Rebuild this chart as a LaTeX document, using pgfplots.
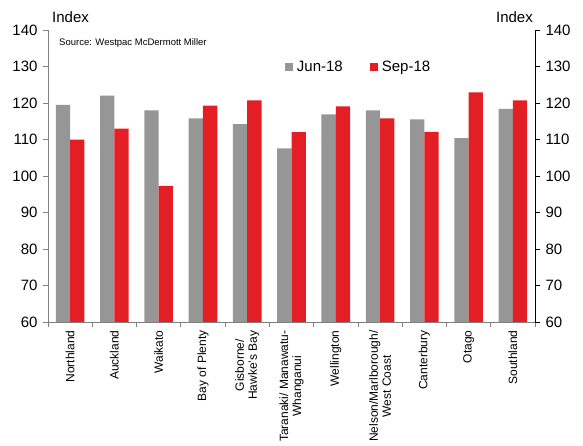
\documentclass[border=0pt]{standalone}
\usepackage{pgfplots}
\usepackage{pgfplotstable}
\pgfplotsset{compat=1.18}
\usepackage{fontspec}
\setmainfont{Liberation Sans}
\definecolor{jun}{RGB}{150,150,150}
\definecolor{sep}{RGB}{227,30,36}
\definecolor{axgray}{RGB}{128,128,128}

\pgfplotstableread{
x jun sep
0 119.5 110.0
1 122.0 113.0
2 118.0 97.3
3 115.8 119.3
4 114.2 120.7
5 107.6 112.0
6 116.9 119.1
7 118.0 115.8
8 115.5 112.1
9 110.4 122.9
10 118.4 120.7
}\data

\begin{document}
\begin{tikzpicture}[x=1pt,y=1pt]
\useasboundingbox (-48,-124) rectangle (535,322);
\begin{axis}[
  at={(0,0)}, anchor=south west,
  scale only axis, width=487pt, height=292pt,
  xmin=-0.5, xmax=10.5, ymin=60, ymax=140,
  ybar=0pt, bar width=14.3pt,
  axis x line*=bottom, axis y line*=left,
  x axis line style={-, axgray, line width=0.8pt},
  y axis line style={-, axgray, line width=0.8pt},
  xtick={0,...,10},
  xticklabels={Northland, Auckland, Waikato, Bay of Plenty, {Gisborne/\\Hawke's Bay}, {Taranaki/ Manawatu-\\Whanganui}, Wellington, {Nelson/Marlborough/\\West Coast}, Canterbury, Otago, Southland},
  major x tick style={draw=none},
  minor xtick={-0.5,0.5,...,10.5},
  minor x tick style={axgray, line width=0.8pt},
  minor tick length=5pt,
  tick align=outside, major tick length=5pt,
  x tick label style={rotate=90, anchor=east, align=center, font=\fontsize{12}{13}\selectfont},
  ytick={60,70,...,140},
  y tick style={axgray, line width=0.8pt},
  y tick label style={font=\fontsize{15}{15}\selectfont, xshift=-2pt},
  /pgf/number format/assume math mode=true,
  legend style={at={(0.48,0.907)}, anchor=north west, draw=none, fill=none,
    legend columns=2, font=\fontsize{15}{15}\selectfont,
    /tikz/every odd column/.append style={column sep=2pt},
    /tikz/every even column/.append style={column sep=25pt}},
  legend image code/.code={\fill[#1] (0pt,-4pt) rectangle (8pt,4pt);},
]
\addplot[draw=none, fill=jun] table[x=x, y=jun] {\data};
\addplot[draw=none, fill=sep] table[x=x, y=sep] {\data};
\legend{Jun-18, Sep-18}
\end{axis}
\begin{axis}[
  at={(0,0)}, anchor=south west,
  scale only axis, width=487pt, height=292pt,
  xmin=-0.5, xmax=10.5, ymin=60, ymax=140,
  axis x line=none, axis y line*=right,
  y axis line style={-, black, line width=0.8pt},
  ytick={60,70,...,140},
  tick align=outside, major tick length=5pt,
  y tick style={black, line width=0.8pt},
  y tick label style={font=\fontsize{15}{15}\selectfont, xshift=2pt},
  /pgf/number format/assume math mode=true,
]
\addplot[draw=none] coordinates {(0,60)};
\end{axis}
\node[anchor=west, font=\fontsize{15}{15}\selectfont, inner sep=0pt] at (4,305) {Index};
\node[anchor=east, font=\fontsize{15}{15}\selectfont, inner sep=0pt] at (485,305) {Index};
\node[anchor=west, font=\fontsize{9.5}{10}\selectfont, inner sep=0pt] at (11,279) {Source: Westpac McDermott Miller};
\end{tikzpicture}
\end{document}
